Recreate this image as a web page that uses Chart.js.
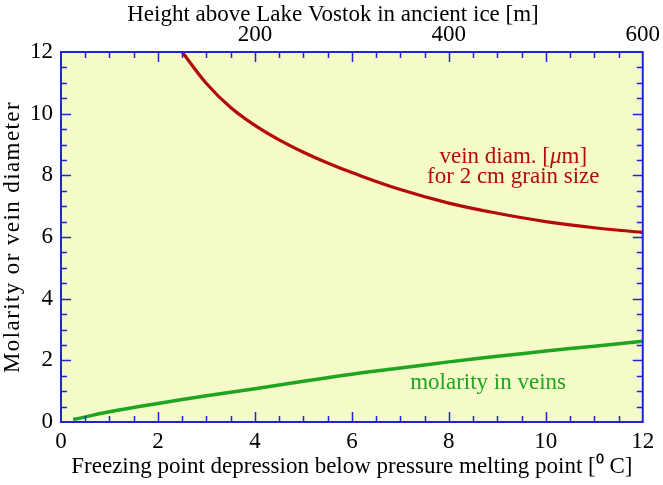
<!DOCTYPE html>
<html>
<head>
<meta charset="utf-8">
<script src="https://cdn.jsdelivr.net/npm/chart.js@4.4.1/dist/chart.umd.min.js"></script>
<style>
  html, body { margin: 0; padding: 0; background: #fff; }
  #c { display: block; }
</style>
</head>
<body>
<canvas id="c" width="663" height="485"></canvas>
<script>
/* ── Data ───────────────────────────── */
const veinDepression = [2.5, 3, 3.5, 4, 4.5, 5, 5.5, 6, 7, 8, 9, 10, 11, 12];
const veinDiameter   = [12, 10.98, 10.2, 9.62, 9.15, 8.75, 8.4, 8.09, 7.54, 7.1, 6.77, 6.5, 6.3, 6.15];

const molDepression  = [0.25, 1, 2, 3, 4, 5, 6, 7, 8, 9, 10, 11, 12];
const molarity       = [0.08, 0.33, 0.6, 0.85, 1.08, 1.32, 1.55, 1.75, 1.95, 2.13, 2.3, 2.46, 2.62];

const heightTicks    = [200, 400, 600];

const SERIF = "'Liberation Serif', 'Times New Roman', serif";
const BLUE  = '#2323d6';
const RED   = '#b40a0a';
const GREEN = '#1fa51f';
const FS    = 23;

function pts(xs, ys) { return xs.map((x, i) => ({ x, y: ys[i] })); }

/* ── Frame, inward ticks, annotations ── */
const framePlugin = {
  id: 'frame',
  beforeDatasetsDraw(chart) {
    const { ctx, chartArea: a } = chart;
    ctx.save();
    ctx.fillStyle = '#f5fbc8';
    ctx.fillRect(a.left, a.top, a.right - a.left, a.bottom - a.top);
    ctx.restore();
  },
  afterDatasetsDraw(chart) {
    const { ctx, chartArea: a, scales } = chart;
    const sx = scales.x, sy = scales.y;
    ctx.save();
    ctx.strokeStyle = BLUE;
    ctx.lineWidth = 1.5;
    ctx.beginPath();
    for (let v = 0.5; v < 12; v += 0.5) {
      const len = v % 2 === 0 ? 10 : 6;
      const px = Math.round(sx.getPixelForValue(v)) + 0.5;
      ctx.moveTo(px, a.bottom); ctx.lineTo(px, a.bottom - len);
      ctx.moveTo(px, a.top);    ctx.lineTo(px, a.top + len);
      const py = Math.round(sy.getPixelForValue(v)) + 0.5;
      ctx.moveTo(a.left, py);   ctx.lineTo(a.left + len, py);
      ctx.moveTo(a.right, py);  ctx.lineTo(a.right - len, py);
    }
    ctx.stroke();
    ctx.lineWidth = 2;
    ctx.strokeRect(a.left, a.top, a.right - a.left, a.bottom - a.top);

    // curve labels
    ctx.textAlign = 'left';
    ctx.textBaseline = 'middle';
    ctx.fillStyle = RED;
    const f = FS + 'px ' + SERIF, fi = 'italic ' + FS + 'px ' + SERIF;
    const parts = [['vein diam. [', f], ['\u03bc', fi], ['m]', f]];
    let w = 0;
    parts.forEach(p => { ctx.font = p[1]; w += ctx.measureText(p[0]).width; });
    let x = sx.getPixelForValue(9.33) - w / 2;
    const y1 = sy.getPixelForValue(8.59);
    parts.forEach(p => { ctx.font = p[1]; ctx.fillText(p[0], x, y1); x += ctx.measureText(p[0]).width; });
    ctx.font = f;
    ctx.textAlign = 'center';
    ctx.fillText('for 2 cm grain size', sx.getPixelForValue(9.33), sy.getPixelForValue(7.94));
    ctx.fillStyle = GREEN;
    ctx.fillText('molarity in veins', sx.getPixelForValue(8.81), sy.getPixelForValue(1.26));

    // top axis title
    ctx.fillStyle = '#000';
    ctx.fillText('Height above Lake Vostok in ancient ice [m]', 333, 15);

    // left axis title (slightly letter-spaced like the original)
    ctx.translate(13, (a.top + a.bottom) / 2);
    ctx.rotate(-Math.PI / 2);
    ctx.letterSpacing = '1.4px';
    ctx.fillText('Molarity or vein diameter', 0, 0);
    ctx.restore();
  }
};

new Chart(document.getElementById('c'), {
  type: 'scatter',
  data: {
    datasets: [{
      data: pts(veinDepression, veinDiameter),
      showLine: true, borderColor: RED, borderWidth: 3.2,
      pointRadius: 0, tension: 0.4
    }, {
      data: pts(molDepression, molarity),
      showLine: true, borderColor: GREEN, borderWidth: 3.5,
      pointRadius: 0, tension: 0.4
    }]
  },
  options: {
    responsive: false,
    animation: false,
    layout: { padding: { left: 0, right: 18, top: 0, bottom: 0 } },
    plugins: { legend: { display: false }, tooltip: { enabled: false } },
    scales: {
      x: {
        type: 'linear', position: 'bottom', min: 0, max: 12,
        grid: { display: false, drawTicks: false }, border: { display: false },
        ticks: { stepSize: 2, color: '#000', padding: 6, font: { family: SERIF, size: FS } },
        title: {
          display: true, color: '#000',
          text: 'Freezing point depression below pressure melting point [\u2070 C]',
          font: { family: SERIF, size: FS }, padding: { top: 0, bottom: 4 }
        },
        afterFit(s) { s.height = 63; }
      },
      x2: {
        type: 'linear', position: 'top', min: 0, max: 600,
        grid: { display: false, drawTicks: false }, border: { display: false },
        afterBuildTicks(s) { s.ticks = heightTicks.map(v => ({ value: v })); },
        ticks: { color: '#000', padding: 3, font: { family: SERIF, size: FS } },
        afterFit(s) { s.height = 52; }
      },
      y: {
        type: 'linear', min: 0, max: 12,
        grid: { display: false, drawTicks: false }, border: { display: false },
        ticks: { stepSize: 2, color: '#000', padding: 8, font: { family: SERIF, size: FS } },
        afterFit(s) { s.width = 61; }
      }
    }
  },
  plugins: [framePlugin]
});
</script>
</body>
</html>
